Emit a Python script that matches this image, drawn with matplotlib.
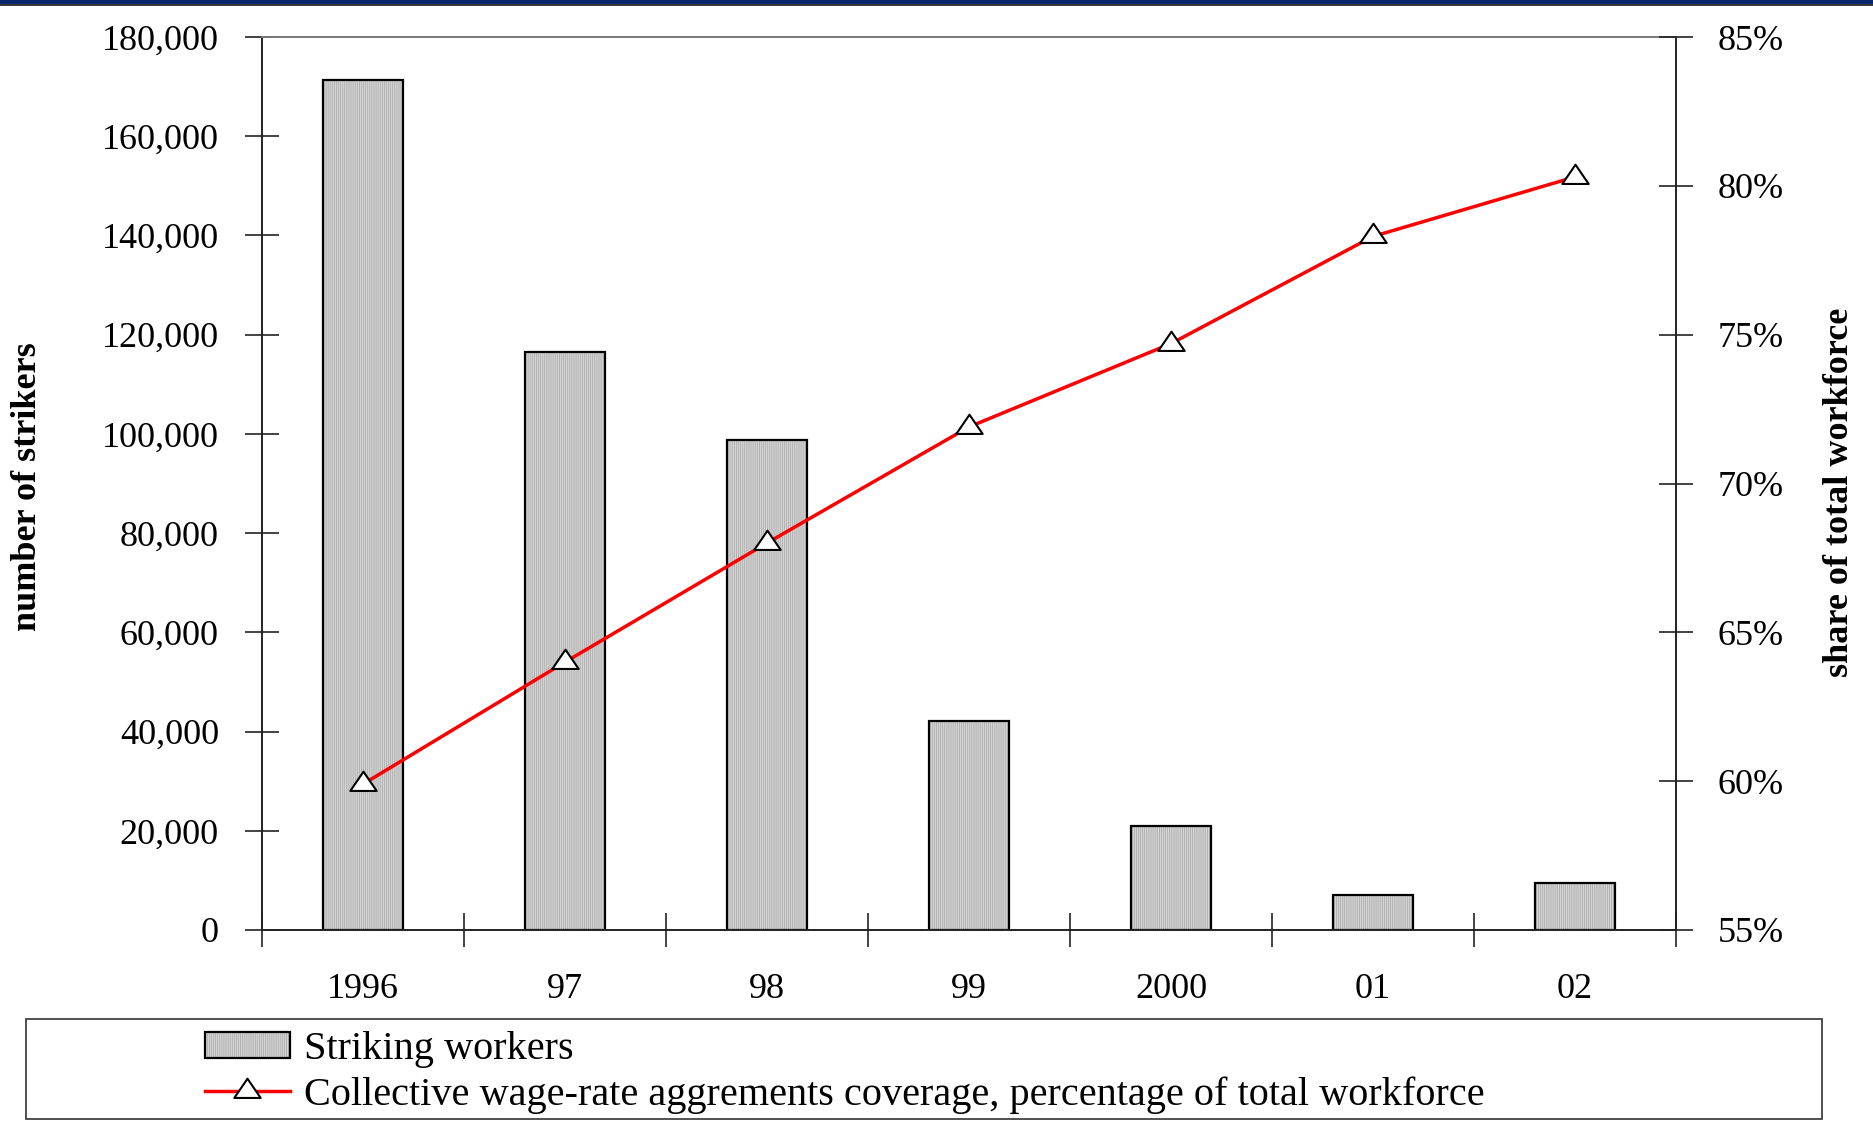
import matplotlib
matplotlib.use("Agg")
import matplotlib.pyplot as plt
import matplotlib.ticker as mticker
from matplotlib.patches import Rectangle
from matplotlib.lines import Line2D
from matplotlib.path import Path

# Data
years = ["1996", "97", "98", "99", "2000", "01", "02"]
strikers = [171300, 116500, 98700, 42100, 20900, 7000, 9400]
coverage = [59.9, 64.0, 68.0, 71.9, 74.7, 78.3, 80.3]

plt.rcParams["font.family"] = ["Liberation Serif", "DejaVu Serif"]
plt.rcParams["hatch.linewidth"] = 0.5

BAR_FACE = "#d4d4d4"
BAR_HATCH_COLOR = "#a6a6a6"
BAR_HATCH = "||||||||"

# Flat open triangle, anchored at its centroid
TRIANGLE = Path([(-1, -0.49), (1, -0.49), (0, 0.97), (-1, -0.49)],
                [Path.MOVETO, Path.LINETO, Path.LINETO, Path.CLOSEPOLY])
LINE_STYLE = dict(color="#ff0000", linewidth=2.5, marker=TRIANGLE, markersize=19,
                  markerfacecolor="white", markeredgecolor="black", markeredgewidth=1.5)

W, H = 1873, 1121
fig = plt.figure(figsize=(W / 100, H / 100), dpi=100)

# Dark banner along the top edge
fig.patches.append(Rectangle((0, 1 - 4 / H), 1, 4 / H, transform=fig.transFigure,
                             facecolor="#06256b", edgecolor="none", zorder=5))
fig.patches.append(Rectangle((0, 1 - 6 / H), 1, 2 / H, transform=fig.transFigure,
                             facecolor="#3a3a3a", edgecolor="none", zorder=5))

left, right, top, bottom = 262, 1676, 37, 930
ax = fig.add_axes([left / W, 1 - bottom / H, (right - left) / W, (bottom - top) / H])
x = list(range(len(years)))

# Striped fill first (hatch takes the edge colour), then the black outline
ax.bar(x, strikers, width=0.4, facecolor=BAR_FACE, edgecolor=BAR_HATCH_COLOR,
       linewidth=0, hatch=BAR_HATCH, zorder=2)
ax.bar(x, strikers, width=0.4, fill=False, edgecolor="black", linewidth=1.6, zorder=2.1)
ax.set_xlim(-0.5, len(years) - 0.5)
ax.set_ylim(0, 180000)
ax.yaxis.set_major_locator(mticker.MultipleLocator(20000))
ax.yaxis.set_major_formatter(mticker.FuncFormatter(lambda v, p: f"{int(v):,}"))

# Category boundaries carry the tick marks, centres carry the labels
ax.set_xticks([i - 0.5 for i in range(len(years) + 1)])
ax.set_xticklabels([])
ax.set_xticks(x, minor=True)
ax.set_xticklabels(years, minor=True)
ax.tick_params(axis="x", which="major", direction="inout", length=24, width=1.2, color="#222222")
ax.tick_params(axis="x", which="minor", length=0, pad=31, labelsize=26)
ax.tick_params(axis="y", direction="inout", length=24, width=1.2, color="#222222",
               pad=19, labelsize=26)

for side in ["left", "bottom", "right"]:
    ax.spines[side].set_color("#222222")
    ax.spines[side].set_linewidth(1.4)
ax.spines["top"].set_color("#7a7a7a")
ax.spines["top"].set_linewidth(1.4)

ax.set_ylabel("number of strikers", fontsize=26, fontweight="bold")
ax.yaxis.set_label_coords(-0.154, 0.497)

ax2 = ax.twinx()
ax2.plot(x, coverage, zorder=3, **LINE_STYLE)
ax2.set_ylim(55, 85)
ax2.yaxis.set_major_locator(mticker.MultipleLocator(5))
ax2.yaxis.set_major_formatter(mticker.FuncFormatter(lambda v, p: f"{int(round(v))}%"))
ax2.tick_params(axis="y", direction="inout", length=24, width=1.2, color="#222222",
                pad=18, labelsize=26)
for side in ["left", "bottom", "right", "top"]:
    ax2.spines[side].set_visible(False)
ax2.set_ylabel("share of total workforce", fontsize=26, fontweight="bold", rotation=90)
ax2.yaxis.set_label_coords(1.104, 0.49)

# Legend box spanning the bottom of the figure
fig.patches.append(Rectangle((26 / W, 1 - 1119 / H), (1822 - 26) / W, (1119 - 1019) / H,
                             transform=fig.transFigure, facecolor="white",
                             edgecolor="#333333", linewidth=1.2, zorder=1))
bar_handle = (
    Rectangle((0, 0), 1, 1, facecolor=BAR_FACE, edgecolor=BAR_HATCH_COLOR, linewidth=0,
              hatch=BAR_HATCH),
    Rectangle((0, 0), 1, 1, fill=False, edgecolor="black", linewidth=1.6),
)
handles = [bar_handle, Line2D([], [], **LINE_STYLE)]
labels = ["Striking workers",
          "Collective wage-rate aggrements coverage, percentage of total workforce"]
fig.legend(handles, labels, loc="upper left", bbox_to_anchor=(205 / W, 1 - 1031 / H),
           frameon=False, fontsize=29, handlelength=2.1, handleheight=0.62,
           handletextpad=0.35, labelspacing=0.2, borderpad=0, borderaxespad=0)

fig.savefig("out.png", dpi=100)
